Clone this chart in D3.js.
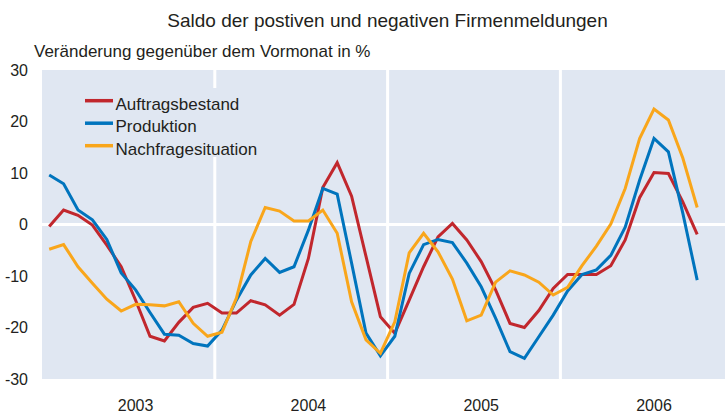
<!DOCTYPE html>
<html>
<head>
<meta charset="utf-8">
<script src="https://cdn.jsdelivr.net/npm/d3@7"></script>
<style>
  body { margin: 0; background: #fff; }
  svg text { font-family: "Liberation Sans", Arial, sans-serif; fill: #231f20; }
</style>
</head>
<body>
<svg id="chart"></svg>
<script>
// Chart data (monthly, Jan 2003 - Oct 2006)
const years = [2003, 2004, 2005, 2006];
const yTicks = [-30, -20, -10, 0, 10, 20, 30];
const seriesNames = ["Auftragsbestand", "Produktion", "Nachfragesituation"];
const seriesColors = ["#c1272d", "#0074bd", "#f9a61b"];

const auftragsbestand = [
  -0.4, 2.8, 1.8, -0.1, -4.0, -8.2, -14.7, -21.7, -22.6, -19.0, -16.1, -15.3,
  -17.2, -17.2, -14.8, -15.6, -17.6, -15.5, -6.6, 7.2, 12.0, 5.5, -6.2, -17.9,
  -21.1, -14.7, -8.2, -2.4, 0.2, -3.0, -7.2, -12.7, -19.2, -20.0, -16.7, -12.4,
  -9.7, -9.7, -9.7, -8.0, -3.0, 5.2, 10.1, 9.9, 4.4, -1.9
];
const produktion = [
  9.6, 7.9, 2.8, 0.9, -2.9, -9.4, -12.7, -17.1, -21.3, -21.5, -23.1, -23.6,
  -20.5, -14.7, -9.8, -6.6, -9.3, -8.2, -1.1, 7.0, 5.9, -7.5, -21.1, -25.5,
  -21.7, -9.5, -3.9, -2.9, -3.5, -7.5, -12.1, -18.2, -24.7, -26.0, -21.8, -17.6,
  -12.9, -9.7, -8.8, -6.0, -0.5, 8.6, 16.7, 14.1, 2.2, -10.8
];
const nachfragesituation = [
  -4.8, -3.9, -8.2, -11.4, -14.5, -16.8, -15.5, -15.6, -15.8, -15.0, -19.2, -21.7,
  -20.9, -14.3, -3.3, 3.3, 2.6, 0.7, 0.7, 2.8, -1.7, -15.0, -22.4, -25.0,
  -18.9, -5.5, -1.7, -5.3, -10.6, -18.7, -17.6, -11.2, -9.0, -9.8, -11.2, -13.7,
  -12.2, -8.0, -4.2, 0.1, 7.0, 16.7, 22.4, 20.3, 12.9, 3.3
];

const W = 725, H = 414;
const plot = { left: 42, right: 733.2, top: 70, bottom: 379 };

const svg = d3.select("#chart").attr("width", W).attr("height", H);

const months = d3.range(years.length * 12);
const x = d3.scaleBand().domain(months).range([plot.left, plot.right]);
const y = d3.scaleLinear().domain([-30, 30]).range([plot.bottom, plot.top]);
const cx = (i) => x(i) + x.bandwidth() / 2;

// title + axis caption
svg.append("text")
  .attr("x", 387.5).attr("y", 27)
  .attr("text-anchor", "middle")
  .attr("font-size", 19)
  .text("Saldo der postiven und negativen Firmenmeldungen");

svg.append("text")
  .attr("x", 34).attr("y", 57)
  .attr("font-size", 17)
  .text("Veränderung gegenüber dem Vormonat in %");

// plot background
svg.append("rect")
  .attr("x", plot.left).attr("y", plot.top)
  .attr("width", plot.right - plot.left)
  .attr("height", plot.bottom - plot.top)
  .attr("fill", "#e0e7f2");

// year separators and zero line in white
svg.selectAll(".sep")
  .data(years.slice(1))
  .enter().append("line")
  .attr("x1", (d, k) => x((k + 1) * 12))
  .attr("x2", (d, k) => x((k + 1) * 12))
  .attr("y1", plot.top).attr("y2", plot.bottom)
  .attr("stroke", "#fff").attr("stroke-width", 3);

svg.append("line")
  .attr("x1", plot.left).attr("x2", plot.right)
  .attr("y1", y(0)).attr("y2", y(0))
  .attr("stroke", "#fff").attr("stroke-width", 3);

// y tick labels
svg.selectAll(".ytick")
  .data(yTicks)
  .enter().append("text")
  .attr("x", 28).attr("y", (d) => y(d))
  .attr("dy", "0.36em")
  .attr("text-anchor", "end")
  .attr("font-size", 16)
  .text((d) => d);

// year labels under July of each year
svg.selectAll(".year")
  .data(years)
  .enter().append("text")
  .attr("x", (d, k) => cx(k * 12 + 6))
  .attr("y", 411)
  .attr("text-anchor", "middle")
  .attr("font-size", 16)
  .text((d) => d);

// legend box sits on top of the grid
svg.append("rect")
  .attr("x", 76).attr("y", 88)
  .attr("width", 188).attr("height", 69)
  .attr("fill", "#e0e7f2");

const line = d3.line()
  .x((d, i) => cx(i))
  .y((d) => y(d));

const allSeries = [auftragsbestand, produktion, nachfragesituation];

svg.append("g")
  .selectAll("path")
  .data(allSeries)
  .enter().append("path")
  .attr("d", line)
  .attr("fill", "none")
  .attr("stroke", (d, i) => seriesColors[i])
  .attr("stroke-width", 3)
  .attr("stroke-linejoin", "miter");

const legend = svg.append("g")
  .selectAll("g")
  .data(seriesNames)
  .enter().append("g")
  .attr("transform", (d, i) => `translate(85,${100.7 + i * 22.5})`);

legend.append("line")
  .attr("x1", 0).attr("x2", 28)
  .attr("stroke", (d, i) => seriesColors[i])
  .attr("stroke-width", 3.5);

legend.append("text")
  .attr("x", 30.5).attr("y", 9)
  .attr("font-size", 17)
  .text((d) => d);
</script>
</body>
</html>
